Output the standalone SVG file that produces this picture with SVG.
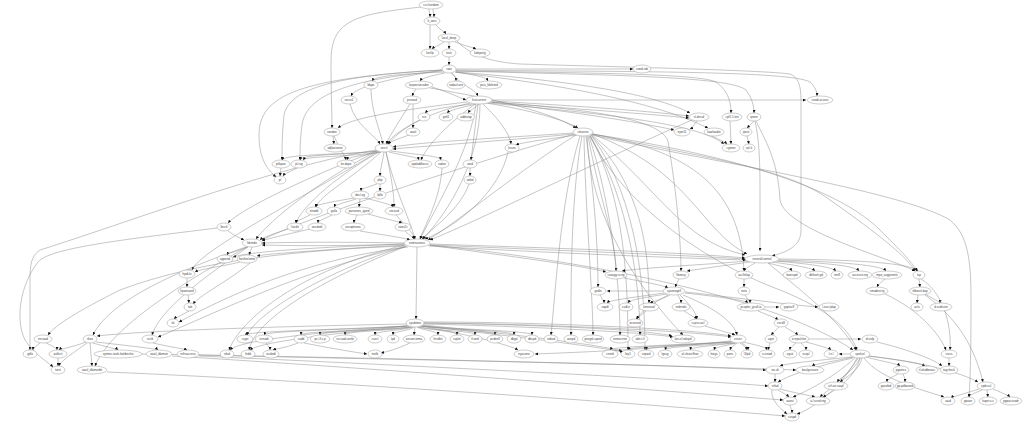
<svg xmlns="http://www.w3.org/2000/svg" width="1024" height="423" viewBox="0 0 1024 423">
<defs>
<marker id="a" viewBox="0 0 10 10" refX="10" refY="5" markerWidth="3" markerHeight="3" markerUnits="userSpaceOnUse" orient="auto"><path d="M0,0 L10,5 L0,10 z" fill="#111"/></marker>
</defs>
<style>
.n ellipse{fill:#fff;stroke:#9a9a9a;stroke-width:0.5}
.n text{font-family:"Liberation Sans",Arial,sans-serif;font-size:3px;fill:#444;text-anchor:middle;dominant-baseline:central}
#edges path{fill:none;stroke:#8c8c8c;stroke-width:0.5;marker-end:url(#a)}
</style>
<rect width="1024" height="423" fill="#fff"/>
<g id="edges">
<path d="M429,9 C429,13 430,13 430,17"/>
<path d="M433,9 C433,13 434,13 434,17"/>
<path d="M421,7 C360,14 331,18 331,60 C331,100 332,110 332,128"/>
<path d="M430,25 C430,38 430,40 430,49"/>
<path d="M436,25 C440,30 444,31 446,34"/>
<path d="M444,42 C438,46 434,47 432,49"/>
<path d="M449,42 L449,49"/>
<path d="M455,42 C465,46 472,47 476,49"/>
<path d="M457,41 C470,55 490,62 520,64 C620,67 760,70 790,74 C798,77 801,85 801,100 L801,230 C801,245 790,251 772,256"/>
<path d="M449,57 L449,65"/>
<path d="M444,72 C400,74 375,76 372,81"/>
<path d="M445,73 C430,76 422,78 420,81"/>
<path d="M451,73 C455,76 456,78 456,81"/>
<path d="M455,72 C475,75 486,77 488,81"/>
<path d="M452,73 C460,85 474,88 478,96"/>
<path d="M456,69 L633,69"/>
<path d="M456,70 C600,72 790,70 810,82 C815,87 817,91 817,96"/>
<path d="M456,71 C600,73 700,74 716,82 C727,90 731,100 731,113"/>
<path d="M456,71 C600,75 730,76 746,90 C752,98 754,106 754,113"/>
<path d="M456,72 C560,80 650,92 690,113"/>
<path d="M443,70 C380,80 355,88 351,96"/>
<path d="M442,70 C350,75 290,85 284,115 C282,135 282,150 282,160"/>
<path d="M442,71 C360,78 306,92 302,125 C300,140 300,150 300,160"/>
<path d="M442,70 C300,78 259,95 259,135 C259,160 268,170 276,177"/>
<path d="M455,72 C560,85 650,100 708,128"/>
<path d="M371,89 C371,110 380,130 383,144"/>
<path d="M416,89 C414,92 413,94 412,96"/>
<path d="M432,87 C448,92 458,97 466,100"/>
<path d="M430,88 C500,100 550,112 576,128"/>
<path d="M410,104 C400,120 390,135 386,144"/>
<path d="M413,104 L413,128"/>
<path d="M350,104 C355,125 375,135 380,144"/>
<path d="M472,104 C440,108 428,110 425,113"/>
<path d="M476,104 C460,108 450,110 447,113"/>
<path d="M479,104 C475,108 470,110 468,113"/>
<path d="M486,103 C530,110 565,120 578,128"/>
<path d="M470,103 C420,115 400,130 388,144"/>
<path d="M467,102 C400,110 350,118 338,128"/>
<path d="M490,102 C560,110 640,122 674,130"/>
<path d="M492,101 C560,105 640,110 689,116"/>
<path d="M492,102 C560,108 640,113 689,118"/>
<path d="M492,100 L806,100"/>
<path d="M476,104 C470,150 440,200 420,239"/>
<path d="M480,104 C480,160 450,210 423,239"/>
<path d="M478,104 L471,160"/>
<path d="M475,104 C440,130 425,150 421,160"/>
<path d="M483,104 C500,120 510,135 511,144"/>
<path d="M488,103 C620,115 700,125 724,144"/>
<path d="M490,102 C600,110 660,120 668,141 C678,200 681,250 681,271"/>
<path d="M754,121 C750,125 748,127 747,128"/>
<path d="M730,121 L731,144"/>
<path d="M697,121 C694,125 692,128 690,129"/>
<path d="M747,136 L749,144"/>
<path d="M712,136 C720,140 725,142 727,144"/>
<path d="M755,121 C758,135 760,150 760,190 L760,251"/>
<path d="M573,133 C500,138 420,142 393,147"/>
<path d="M574,134 C500,141 425,146 393,149"/>
<path d="M577,135 C540,140 520,143 516,145"/>
<path d="M575,134 C480,160 300,220 262,240"/>
<path d="M576,135 C520,170 460,220 428,240"/>
<path d="M580,136 C560,200 555,300 551,335"/>
<path d="M582,136 C570,200 571,300 571,335"/>
<path d="M584,136 C585,200 593,300 593,335"/>
<path d="M586,136 C595,200 598,250 598,287"/>
<path d="M588,136 C600,200 616,240 616,271"/>
<path d="M589,136 C610,200 620,280 620,335"/>
<path d="M590,136 C630,200 640,290 640,335"/>
<path d="M590,135 C625,200 628,280 628,350"/>
<path d="M591,135 C640,200 645,300 645,350"/>
<path d="M591,135 C645,190 649,260 649,303"/>
<path d="M592,135 C660,190 680,240 745,255"/>
<path d="M592,134 C690,170 700,230 747,254"/>
<path d="M593,134 C680,150 740,180 744,271"/>
<path d="M591,134 C700,150 830,180 880,230 C900,250 912,262 917,271"/>
<path d="M592,134 C720,160 790,170 830,200 C880,235 908,258 915,271"/>
<path d="M592,135 C700,160 900,190 950,220 C968,235 971,260 971,300 C971,360 970,385 969,397"/>
<path d="M590,136 C620,200 700,260 780,290 C830,310 850,330 857,350"/>
<path d="M587,136 C590,220 640,290 683,335"/>
<path d="M756,121 C765,140 778,160 780,200 C785,230 890,258 915,271"/>
<path d="M378,151 C340,155 285,154 282,160"/>
<path d="M379,151 C345,155 302,154 300,160"/>
<path d="M380,152 C350,157 306,156 303,160"/>
<path d="M381,152 C360,156 348,157 347,160"/>
<path d="M389,152 C405,156 418,157 419,160"/>
<path d="M391,151 C420,155 440,156 441,160"/>
<path d="M384,152 C382,165 380,170 380,176"/>
<path d="M386,152 C395,190 410,220 415,239"/>
<path d="M381,152 C350,180 320,195 316,207"/>
<path d="M386,152 C392,180 394,195 394,207"/>
<path d="M379,152 C330,180 300,210 296,223"/>
<path d="M377,151 C320,180 270,220 256,239"/>
<path d="M376,151 C300,180 240,210 228,223"/>
<path d="M376,150 C280,165 120,225 40,250 C31,256 30,265 30,280 L30,350"/>
<path d="M377,152 C300,200 200,250 192,270"/>
<path d="M333,136 L334,144"/>
<path d="M334,136 C340,150 345,155 346,160"/>
<path d="M409,135 C395,140 390,142 388,144"/>
<path d="M420,120 C400,130 390,138 387,144"/>
<path d="M281,168 L280,176"/>
<path d="M297,168 C290,172 285,173 283,176"/>
<path d="M377,184 C365,188 361,189 361,191"/>
<path d="M380,184 L380,191"/>
<path d="M442,168 C440,200 425,225 420,239"/>
<path d="M470,168 L470,176"/>
<path d="M469,184 C460,210 430,230 422,239"/>
<path d="M354,198 C325,203 316,205 315,207"/>
<path d="M356,199 C340,204 335,205 334,207"/>
<path d="M360,199 L359,207"/>
<path d="M365,198 C385,203 392,205 393,207"/>
<path d="M396,215 C405,225 413,233 415,239"/>
<path d="M368,214 C390,220 400,222 402,223"/>
<path d="M310,215 C300,220 296,221 296,223"/>
<path d="M332,215 C322,220 318,221 318,223"/>
<path d="M357,215 C355,220 354,221 354,223"/>
<path d="M360,231 C390,236 405,238 410,240"/>
<path d="M405,231 C410,236 413,237 414,239"/>
<path d="M288,229 C270,235 262,238 260,240"/>
<path d="M310,229 C280,236 266,239 262,241"/>
<path d="M404,243 C350,242 300,242 262,243"/>
<path d="M404,244 C350,246 300,246 262,245"/>
<path d="M228,231 C235,236 240,238 244,240"/>
<path d="M248,247 C235,252 228,253 227,255"/>
<path d="M252,247 L249,255"/>
<path d="M405,245 C320,250 265,254 257,256"/>
<path d="M404,244 C300,248 250,252 233,257"/>
<path d="M240,262 C220,267 200,269 195,272"/>
<path d="M187,278 L187,287"/>
<path d="M188,295 L189,303"/>
<path d="M250,263 C230,280 200,295 193,304"/>
<path d="M189,311 C180,316 175,318 174,319"/>
<path d="M408,247 C300,260 220,300 179,322"/>
<path d="M405,247 C300,270 200,320 158,337"/>
<path d="M404,246 C300,250 200,260 120,290 C80,310 55,325 48,335"/>
<path d="M217,228 C120,240 50,248 38,262 C20,285 15,320 25,340 C35,355 48,362 53,367"/>
<path d="M246,247 C180,270 110,300 93,335"/>
<path d="M248,247 C200,280 160,310 152,335"/>
<path d="M247,247 C170,290 110,330 95,366"/>
<path d="M508,152 C500,190 460,225 425,239"/>
<path d="M692,120 C600,160 480,220 430,240"/>
<path d="M430,244 C550,248 680,252 745,258"/>
<path d="M430,245 C550,250 680,255 745,259"/>
<path d="M429,246 C550,253 680,258 746,260"/>
<path d="M428,245 C500,255 580,265 606,272"/>
<path d="M430,245 C600,262 780,300 853,350"/>
<path d="M417,247 L416,319"/>
<path d="M405,245 C300,270 240,320 229,350"/>
<path d="M407,246 C320,280 255,320 249,350"/>
<path d="M406,246 C330,270 260,310 247,335"/>
<path d="M86,342 C70,348 60,349 59,350"/>
<path d="M93,343 C110,348 117,349 118,350"/>
<path d="M96,342 C140,347 157,349 158,350"/>
<path d="M90,343 L92,366"/>
<path d="M87,343 C70,355 60,362 59,366"/>
<path d="M40,343 C35,347 33,349 33,350"/>
<path d="M46,343 C55,347 57,349 57,350"/>
<path d="M58,358 L58,366"/>
<path d="M153,343 C175,348 185,349 187,350"/>
<path d="M406,324 C300,326 150,330 97,336"/>
<path d="M199,355 C400,360 600,362 766,370"/>
<path d="M107,372 C300,380 600,400 785,416"/>
<path d="M172,356 C400,370 650,390 783,400"/>
<path d="M199,356 C400,365 700,380 768,386"/>
<path d="M142,354 C400,358 650,365 796,370"/>
<path d="M408,326 C330,330 250,331 245,335"/>
<path d="M409,326 C340,330 266,331 264,335"/>
<path d="M410,327 C370,331 301,331 301,335"/>
<path d="M411,327 C380,331 320,331 320,335"/>
<path d="M412,327 C390,331 345,331 345,335"/>
<path d="M413,327 C400,331 375,331 375,335"/>
<path d="M414,327 C410,331 393,331 393,335"/>
<path d="M415,327 L414,335"/>
<path d="M417,327 C425,331 438,331 438,335"/>
<path d="M418,327 C435,331 457,331 457,335"/>
<path d="M419,327 C440,331 475,331 475,335"/>
<path d="M420,326 C450,330 495,331 495,335"/>
<path d="M421,326 C460,330 514,331 514,335"/>
<path d="M422,326 C470,330 532,331 532,335"/>
<path d="M407,326 C320,332 240,340 230,350"/>
<path d="M407,326 C330,334 260,342 250,350"/>
<path d="M424,323 C550,325 650,330 672,336"/>
<path d="M424,324 C550,327 650,333 673,337"/>
<path d="M424,322 C560,322 700,330 731,336"/>
<path d="M424,323 C560,324 700,332 731,337"/>
<path d="M423,325 C520,335 600,345 622,351"/>
<path d="M423,326 C520,337 600,347 623,352"/>
<path d="M421,326 C470,335 510,345 518,350"/>
<path d="M298,343 C285,348 275,349 273,350"/>
<path d="M266,343 C269,347 270,349 270,350"/>
<path d="M304,343 C340,350 360,353 367,354"/>
<path d="M410,343 C395,350 385,352 381,353"/>
<path d="M731,342 C650,346 612,347 610,350"/>
<path d="M732,342 C660,346 630,347 628,350"/>
<path d="M733,342 C670,346 647,347 646,350"/>
<path d="M734,343 C690,346 666,347 665,350"/>
<path d="M735,343 C710,346 691,347 690,350"/>
<path d="M736,343 C725,346 715,347 714,350"/>
<path d="M737,343 C733,346 731,347 730,350"/>
<path d="M740,343 C744,346 746,347 747,350"/>
<path d="M742,343 C746,346 748,347 748,350"/>
<path d="M743,342 C760,346 766,347 767,350"/>
<path d="M730,341 C650,350 560,353 535,354"/>
<path d="M663,291 L607,291"/>
<path d="M664,293 C630,298 610,300 607,303"/>
<path d="M667,294 C640,298 630,300 628,303"/>
<path d="M670,295 C660,300 652,302 650,303"/>
<path d="M678,295 C680,299 681,301 681,303"/>
<path d="M685,293 C720,297 745,300 748,303"/>
<path d="M680,295 C690,305 696,312 697,319"/>
<path d="M668,295 C650,305 640,312 637,319"/>
<path d="M683,295 C720,310 735,325 737,335"/>
<path d="M685,292 C740,298 790,305 818,307"/>
<path d="M600,295 C603,300 604,302 604,303"/>
<path d="M646,311 C640,316 637,318 636,319"/>
<path d="M684,311 C692,316 696,318 697,319"/>
<path d="M705,326 C725,332 733,334 735,335"/>
<path d="M679,279 C677,283 676,285 675,287"/>
<path d="M624,278 C650,283 665,286 668,288"/>
<path d="M744,279 L744,287"/>
<path d="M745,295 C748,300 750,302 750,303"/>
<path d="M765,307 L779,307"/>
<path d="M758,311 C770,316 776,318 778,320"/>
<path d="M785,327 C793,332 797,334 798,335"/>
<path d="M779,327 C774,332 772,334 771,335"/>
<path d="M801,343 C805,347 806,349 806,350"/>
<path d="M796,343 C791,347 790,349 790,350"/>
<path d="M770,343 L768,350"/>
<path d="M806,342 C825,347 830,349 831,350"/>
<path d="M809,339 C840,339 855,339 861,339"/>
<path d="M877,342 C910,350 935,360 942,366"/>
<path d="M748,261 C700,265 640,268 622,271"/>
<path d="M750,262 C720,266 700,269 687,271"/>
<path d="M755,263 C748,267 745,269 744,271"/>
<path d="M768,263 C780,266 790,268 792,271"/>
<path d="M772,262 C795,265 812,268 815,271"/>
<path d="M776,261 C810,264 832,267 836,271"/>
<path d="M778,261 C830,263 855,266 859,271"/>
<path d="M779,260 C850,262 882,266 886,271"/>
<path d="M779,259 C880,260 912,265 918,271"/>
<path d="M768,263 C800,290 840,320 856,350"/>
<path d="M885,279 C880,283 878,285 877,287"/>
<path d="M919,279 L920,287"/>
<path d="M918,295 L917,303"/>
<path d="M925,294 C935,300 940,302 940,303"/>
<path d="M921,279 C940,290 952,320 950,350"/>
<path d="M885,294 C920,310 940,335 946,350"/>
<path d="M949,358 L949,366"/>
<path d="M925,295 C960,320 975,350 983,382"/>
<path d="M852,357 C800,362 785,364 780,366"/>
<path d="M853,358 C800,370 785,378 778,382"/>
<path d="M857,358 C840,390 810,410 797,414"/>
<path d="M855,358 C830,380 805,392 793,397"/>
<path d="M858,358 C845,380 825,392 820,397"/>
<path d="M860,358 C855,380 830,393 823,397"/>
<path d="M860,358 C855,370 840,378 837,382"/>
<path d="M862,358 C860,370 845,378 840,382"/>
<path d="M866,357 C885,362 898,364 900,366"/>
<path d="M868,356 C900,360 920,363 925,366"/>
<path d="M864,358 C880,380 930,392 944,397"/>
<path d="M854,357 C830,362 815,364 812,366"/>
<path d="M869,356 C920,362 960,372 978,382"/>
<path d="M850,354 L839,354"/>
<path d="M775,374 L775,382"/>
<path d="M778,390 C785,394 788,396 789,397"/>
<path d="M772,390 C770,400 782,410 787,414"/>
<path d="M790,405 C791,409 792,411 792,413"/>
<path d="M780,389 C800,394 812,396 815,397"/>
<path d="M898,374 C890,378 887,380 887,382"/>
<path d="M903,374 C905,378 905,380 905,382"/>
<path d="M979,389 C960,395 952,397 951,398"/>
<path d="M982,390 C972,394 969,396 969,397"/>
<path d="M987,390 L988,397"/>
<path d="M993,389 C1005,394 1009,396 1010,397"/>
</g>
<g id="nodes">
<g id="n_ccc" class="n"><ellipse cx="431" cy="5" rx="12" ry="4"/><text x="431" y="5">ccc/random</text></g>
<g id="n_lta" class="n"><ellipse cx="432" cy="21" rx="8" ry="4"/><text x="432" y="21">lt_ares</text></g>
<g id="n_ldp" class="n"><ellipse cx="449" cy="38" rx="11" ry="4"/><text x="449" y="38">local_deep</text></g>
<g id="n_kerl" class="n"><ellipse cx="430" cy="53" rx="9" ry="4"/><text x="430" y="53">kerl/p</text></g>
<g id="n_lock" class="n"><ellipse cx="449" cy="53" rx="7" ry="4"/><text x="449" y="53">lock</text></g>
<g id="n_kdp" class="n"><ellipse cx="480" cy="53" rx="10" ry="4"/><text x="480" y="53">kdepoi/g</text></g>
<g id="n_root" class="n"><ellipse cx="449" cy="69" rx="7" ry="4"/><text x="449" y="69">root</text></g>
<g id="n_cdx" class="n"><ellipse cx="642" cy="69" rx="9" ry="4"/><text x="642" y="69">candi.rdx</text></g>
<g id="n_ldapc" class="n"><ellipse cx="371" cy="85" rx="7" ry="4"/><text x="371" y="85">ldapc</text></g>
<g id="n_lsp" class="n"><ellipse cx="419" cy="85" rx="14" ry="4"/><text x="419" y="85">laspectorcodec</text></g>
<g id="n_sod" class="n"><ellipse cx="456" cy="85" rx="9" ry="4"/><text x="456" y="85">sodar/core</text></g>
<g id="n_pciu" class="n"><ellipse cx="489" cy="85" rx="13" ry="4"/><text x="489" y="85">pciu_ldeleted</text></g>
<g id="n_cav" class="n"><ellipse cx="820" cy="100" rx="13" ry="4"/><text x="820" y="100">candi.ar.vars</text></g>
<g id="n_sec" class="n"><ellipse cx="349" cy="100" rx="8" ry="4"/><text x="349" y="100">secur1</text></g>
<g id="n_pcn" class="n"><ellipse cx="412" cy="100" rx="9" ry="4"/><text x="412" y="100">pcnoud</text></g>
<g id="n_fco" class="n"><ellipse cx="479" cy="100" rx="13" ry="4"/><text x="479" y="100">fcoicurrent</text></g>
<g id="n_rcn" class="n"><ellipse cx="424" cy="117" rx="6" ry="4"/><text x="424" y="117">rcn</text></g>
<g id="n_getl" class="n"><ellipse cx="446" cy="117" rx="7" ry="4"/><text x="446" y="117">getl1</text></g>
<g id="n_add" class="n"><ellipse cx="466" cy="117" rx="9" ry="4"/><text x="466" y="117">addexop</text></g>
<g id="n_sld" class="n"><ellipse cx="699" cy="117" rx="10" ry="4"/><text x="699" y="117">sl.decaf</text></g>
<g id="n_cpf" class="n"><ellipse cx="732" cy="117" rx="10" ry="4"/><text x="732" y="117">cpf1.1.ten</text></g>
<g id="n_ipn" class="n"><ellipse cx="754" cy="117" rx="7" ry="4"/><text x="754" y="117">ipnen</text></g>
<g id="n_rnd" class="n"><ellipse cx="332" cy="132" rx="8" ry="4"/><text x="332" y="132">randon</text></g>
<g id="n_avl" class="n"><ellipse cx="413" cy="132" rx="7" ry="4"/><text x="413" y="132">avail</text></g>
<g id="n_clr" class="n"><ellipse cx="583" cy="132" rx="10" ry="4"/><text x="583" y="132">clearcnv</text></g>
<g id="n_eye" class="n"><ellipse cx="682" cy="132" rx="8" ry="4"/><text x="682" y="132">eyer11</text></g>
<g id="n_kaw" class="n"><ellipse cx="714" cy="132" rx="10" ry="4"/><text x="714" y="132">kawloader</text></g>
<g id="n_ipt" class="n"><ellipse cx="746" cy="132" rx="6" ry="4"/><text x="746" y="132">ipnut</text></g>
<g id="n_adj" class="n"><ellipse cx="335" cy="148" rx="11" ry="4"/><text x="335" y="148">adjlaesiene</text></g>
<g id="n_ven" class="n"><ellipse cx="384" cy="148" rx="9" ry="4"/><text x="384" y="148">ven.il</text></g>
<g id="n_kse" class="n"><ellipse cx="512" cy="148" rx="7" ry="4"/><text x="512" y="148">ksses</text></g>
<g id="n_cgm" class="n"><ellipse cx="731" cy="148" rx="9" ry="4"/><text x="731" y="148">cgmen</text></g>
<g id="n_cpk" class="n"><ellipse cx="749" cy="148" rx="6" ry="4"/><text x="749" y="148">cpl-k</text></g>
<g id="n_pil" class="n"><ellipse cx="281" cy="164" rx="9" ry="4"/><text x="281" y="164">pillapoc</text></g>
<g id="n_plr" class="n"><ellipse cx="299" cy="164" rx="8" ry="4"/><text x="299" y="164">pl.rug</text></g>
<g id="n_knd" class="n"><ellipse cx="346" cy="164" rx="9" ry="4"/><text x="346" y="164">kn.dape</text></g>
<g id="n_apd" class="n"><ellipse cx="420" cy="164" rx="12" ry="4"/><text x="420" y="164">apdaddlocus</text></g>
<g id="n_rad" class="n"><ellipse cx="442" cy="164" rx="7" ry="4"/><text x="442" y="164">radon</text></g>
<g id="n_ani" class="n"><ellipse cx="470" cy="164" rx="7" ry="4"/><text x="470" y="164">anid</text></g>
<g id="n_pl" class="n"><ellipse cx="280" cy="180" rx="6" ry="4"/><text x="280" y="180">pl</text></g>
<g id="n_php" class="n"><ellipse cx="380" cy="180" rx="6" ry="4"/><text x="380" y="180">php</text></g>
<g id="n_anb" class="n"><ellipse cx="470" cy="180" rx="6" ry="4"/><text x="470" y="180">anbd</text></g>
<g id="n_doc" class="n"><ellipse cx="360" cy="195" rx="9" ry="4"/><text x="360" y="195">docl.og</text></g>
<g id="n_lpf" class="n"><ellipse cx="380" cy="195" rx="6" ry="4"/><text x="380" y="195">lpfla</text></g>
<g id="n_nno" class="n"><ellipse cx="314" cy="211" rx="8" ry="4"/><text x="314" y="211">nnodd</text></g>
<g id="n_gal" class="n"><ellipse cx="334" cy="211" rx="7" ry="4"/><text x="334" y="211">galla</text></g>
<g id="n_prs" class="n"><ellipse cx="359" cy="211" rx="14" ry="4"/><text x="359" y="211">parsenos_igord</text></g>
<g id="n_snc" class="n"><ellipse cx="394" cy="211" rx="9" ry="4"/><text x="394" y="211">sncoud</text></g>
<g id="n_lbs" class="n"><ellipse cx="224" cy="227" rx="7" ry="4"/><text x="224" y="227">lbsctl</text></g>
<g id="n_lsi" class="n"><ellipse cx="295" cy="227" rx="8" ry="4"/><text x="295" y="227">lsicdit</text></g>
<g id="n_anc" class="n"><ellipse cx="317" cy="227" rx="9" ry="4"/><text x="317" y="227">ancdedt</text></g>
<g id="n_osc" class="n"><ellipse cx="353" cy="227" rx="12" ry="4"/><text x="353" y="227">oscoptrionu</text></g>
<g id="n_rwe" class="n"><ellipse cx="403" cy="227" rx="8" ry="4"/><text x="403" y="227">rwes2c</text></g>
<g id="n_fdc" class="n"><ellipse cx="252" cy="243" rx="10" ry="4"/><text x="252" y="243">fdcmdo</text></g>
<g id="n_ext" class="n"><ellipse cx="417" cy="243" rx="13" ry="4"/><text x="417" y="243">extensionus</text></g>
<g id="n_app" class="n"><ellipse cx="225" cy="259" rx="8" ry="4"/><text x="225" y="259">append</text></g>
<g id="n_hos" class="n"><ellipse cx="247" cy="259" rx="10" ry="4"/><text x="247" y="259">hosfteclome</text></g>
<g id="n_neu" class="n"><ellipse cx="762" cy="259" rx="17" ry="4"/><text x="762" y="259">neutrxl/control</text></g>
<g id="n_hpd" class="n"><ellipse cx="187" cy="274" rx="8" ry="4"/><text x="187" y="274">hpdclo</text></g>
<g id="n_coa" class="n"><ellipse cx="616" cy="275" rx="11" ry="4"/><text x="616" y="275">coasgy.ru.ng</text></g>
<g id="n_lfo" class="n"><ellipse cx="681" cy="275" rx="8" ry="4"/><text x="681" y="275">lfonesy</text></g>
<g id="n_acc" class="n"><ellipse cx="744" cy="275" rx="9" ry="4"/><text x="744" y="275">accllelap</text></g>
<g id="n_ban" class="n"><ellipse cx="792" cy="275" rx="9" ry="4"/><text x="792" y="275">banrupd</text></g>
<g id="n_dle" class="n"><ellipse cx="816" cy="275" rx="11" ry="4"/><text x="816" y="275">dlelsetr.gd</text></g>
<g id="n_ter" class="n"><ellipse cx="837" cy="275" rx="6" ry="4"/><text x="837" y="275">teri8</text></g>
<g id="n_axs" class="n"><ellipse cx="860" cy="275" rx="12" ry="4"/><text x="860" y="275">accessit.ing</text></g>
<g id="n_mpo" class="n"><ellipse cx="887" cy="275" rx="15" ry="4"/><text x="887" y="275">mpo_augprionts</text></g>
<g id="n_tsp" class="n"><ellipse cx="919" cy="275" rx="6" ry="4"/><text x="919" y="275">tsp</text></g>
<g id="n_hpa" class="n"><ellipse cx="187" cy="291" rx="9" ry="4"/><text x="187" y="291">hpannaed</text></g>
<g id="n_gsd" class="n"><ellipse cx="598" cy="291" rx="8" ry="4"/><text x="598" y="291">gsdln</text></g>
<g id="n_sys2" class="n"><ellipse cx="674" cy="291" rx="11" ry="4"/><text x="674" y="291">sysenogell</text></g>
<g id="n_nst" class="n"><ellipse cx="744" cy="291" rx="6" ry="4"/><text x="744" y="291">nsto</text></g>
<g id="n_cmd" class="n"><ellipse cx="877" cy="291" rx="11" ry="4"/><text x="877" y="291">cmadevr.tg</text></g>
<g id="n_elb" class="n"><ellipse cx="920" cy="291" rx="11" ry="4"/><text x="920" y="291">elbassl.dap</text></g>
<g id="n_tab" class="n"><ellipse cx="190" cy="307" rx="6" ry="4"/><text x="190" y="307">tab</text></g>
<g id="n_zap" class="n"><ellipse cx="605" cy="307" rx="8" ry="4"/><text x="605" y="307">zapdl</text></g>
<g id="n_cud" class="n"><ellipse cx="626" cy="307" rx="7" ry="4"/><text x="626" y="307">cudl.e</text></g>
<g id="n_ken" class="n"><ellipse cx="649" cy="307" rx="10" ry="4"/><text x="649" y="307">kenniuwl</text></g>
<g id="n_nrd" class="n"><ellipse cx="681" cy="307" rx="9" ry="4"/><text x="681" y="307">nrdrrrdu</text></g>
<g id="n_pca" class="n"><ellipse cx="751" cy="307" rx="14" ry="4"/><text x="751" y="307">pcapler_gcoll.ia</text></g>
<g id="n_gap" class="n"><ellipse cx="789" cy="307" rx="9" ry="4"/><text x="789" y="307">gaptsc8</text></g>
<g id="n_los" class="n"><ellipse cx="829" cy="307" rx="10" ry="4"/><text x="829" y="307">l.oscr.jdap</text></g>
<g id="n_acl" class="n"><ellipse cx="917" cy="307" rx="6" ry="4"/><text x="917" y="307">acls</text></g>
<g id="n_dss" class="n"><ellipse cx="941" cy="307" rx="11" ry="4"/><text x="941" y="307">d.ssdrsstn</text></g>
<g id="n_ilo" class="n"><ellipse cx="173" cy="323" rx="6" ry="4"/><text x="173" y="323">ilo</text></g>
<g id="n_sysd" class="n"><ellipse cx="415" cy="323" rx="9" ry="4"/><text x="415" y="323">sysdemo</text></g>
<g id="n_ecs" class="n"><ellipse cx="635" cy="323" rx="8" ry="4"/><text x="635" y="323">ecsesed</text></g>
<g id="n_ccp" class="n"><ellipse cx="698" cy="323" rx="10" ry="4"/><text x="698" y="323">ccpsccacl</text></g>
<g id="n_cnc" class="n"><ellipse cx="781" cy="323" rx="7" ry="4"/><text x="781" y="323">cncd3</text></g>
<g id="n_nrc" class="n"><ellipse cx="43" cy="339" rx="9" ry="4"/><text x="43" y="339">nncaad</text></g>
<g id="n_rko" class="n"><ellipse cx="90" cy="339" rx="7" ry="4"/><text x="90" y="339">rkoo</text></g>
<g id="n_rald" class="n"><ellipse cx="150" cy="339" rx="8" ry="4"/><text x="150" y="339">ra:ld</text></g>
<g id="n_cry" class="n"><ellipse cx="245" cy="339" rx="8" ry="4"/><text x="245" y="339">crypt</text></g>
<g id="n_tsr" class="n"><ellipse cx="264" cy="339" rx="9" ry="4"/><text x="264" y="339">tsrnadt</text></g>
<g id="n_cad" class="n"><ellipse cx="301" cy="339" rx="7" ry="4"/><text x="301" y="339">cadd</text></g>
<g id="n_pcl" class="n"><ellipse cx="320" cy="339" rx="10" ry="4"/><text x="320" y="339">pc.l.f.s.p</text></g>
<g id="n_scc" class="n"><ellipse cx="345" cy="339" rx="12" ry="4"/><text x="345" y="339">sccuad.senlo</text></g>
<g id="n_cse" class="n"><ellipse cx="375" cy="339" rx="7" ry="4"/><text x="375" y="339">csecl</text></g>
<g id="n_lpd" class="n"><ellipse cx="393" cy="339" rx="6" ry="4"/><text x="393" y="339">lpd</text></g>
<g id="n_aes" class="n"><ellipse cx="414" cy="339" rx="11" ry="4"/><text x="414" y="339">aesuni.toma</text></g>
<g id="n_hrs" class="n"><ellipse cx="438" cy="339" rx="8" ry="4"/><text x="438" y="339">hrsdlet</text></g>
<g id="n_rsp" class="n"><ellipse cx="457" cy="339" rx="7" ry="4"/><text x="457" y="339">rsplet</text></g>
<g id="n_tlo" class="n"><ellipse cx="475" cy="339" rx="7" ry="4"/><text x="475" y="339">tl.ond</text></g>
<g id="n_pcd" class="n"><ellipse cx="495" cy="339" rx="8" ry="4"/><text x="495" y="339">pcdeell</text></g>
<g id="n_dbg" class="n"><ellipse cx="514" cy="339" rx="7" ry="4"/><text x="514" y="339">dbgd</text></g>
<g id="n_dbc" class="n"><ellipse cx="532" cy="339" rx="7" ry="4"/><text x="532" y="339">dbcpd</text></g>
<g id="n_seb" class="n"><ellipse cx="551" cy="339" rx="7" ry="4"/><text x="551" y="339">sebad</text></g>
<g id="n_asn" class="n"><ellipse cx="571" cy="339" rx="7" ry="4"/><text x="571" y="339">asnpd</text></g>
<g id="n_psn" class="n"><ellipse cx="593" cy="339" rx="11" ry="4"/><text x="593" y="339">psngd.cuped</text></g>
<g id="n_snm" class="n"><ellipse cx="620" cy="339" rx="10" ry="4"/><text x="620" y="339">snmxcrrne</text></g>
<g id="n_abn" class="n"><ellipse cx="640" cy="339" rx="8" ry="4"/><text x="640" y="339">abn.r.lt</text></g>
<g id="n_lan" class="n"><ellipse cx="683" cy="339" rx="12" ry="4"/><text x="683" y="339">lan.icl.ndspd</text></g>
<g id="n_cns" class="n"><ellipse cx="738" cy="339" rx="8" ry="4"/><text x="738" y="339">cnstcr</text></g>
<g id="n_agt" class="n"><ellipse cx="771" cy="339" rx="6" ry="4"/><text x="771" y="339">aget</text></g>
<g id="n_ecn" class="n"><ellipse cx="799" cy="339" rx="10" ry="4"/><text x="799" y="339">ecnpulchie</text></g>
<g id="n_dcv" class="n"><ellipse cx="870" cy="339" rx="8" ry="4"/><text x="870" y="339">dcvvlp</text></g>
<g id="n_gdl" class="n"><ellipse cx="30" cy="354" rx="7" ry="4"/><text x="30" y="354">gdlo</text></g>
<g id="n_pol" class="n"><ellipse cx="58" cy="354" rx="9" ry="4"/><text x="58" y="354">polkcit</text></g>
<g id="n_sym" class="n"><ellipse cx="118" cy="354" rx="24" ry="4"/><text x="118" y="354">symtec.tools.boldresho</text></g>
<g id="n_avd" class="n"><ellipse cx="159" cy="354" rx="13" ry="4"/><text x="159" y="354">avail_dlamon</text></g>
<g id="n_nrf" class="n"><ellipse cx="188" cy="354" rx="11" ry="4"/><text x="188" y="354">nrfrsaccess</text></g>
<g id="n_rds" class="n"><ellipse cx="227" cy="354" rx="7" ry="4"/><text x="227" y="354">rdsd</text></g>
<g id="n_led" class="n"><ellipse cx="248" cy="354" rx="7" ry="4"/><text x="248" y="354">ledd</text></g>
<g id="n_eci" class="n"><ellipse cx="271" cy="354" rx="8" ry="4"/><text x="271" y="354">ecidedt</text></g>
<g id="n_mxl" class="n"><ellipse cx="375" cy="354" rx="7" ry="4"/><text x="375" y="354">mxlb</text></g>
<g id="n_nya" class="n"><ellipse cx="524" cy="354" rx="10" ry="4"/><text x="524" y="354">nyacnne</text></g>
<g id="n_cne" class="n"><ellipse cx="610" cy="354" rx="8" ry="4"/><text x="610" y="354">cnetd</text></g>
<g id="n_ltr" class="n"><ellipse cx="628" cy="354" rx="7" ry="4"/><text x="628" y="354">ltrp1</text></g>
<g id="n_cnp" class="n"><ellipse cx="646" cy="354" rx="8" ry="4"/><text x="646" y="354">cnpwd</text></g>
<g id="n_lgv" class="n"><ellipse cx="665" cy="354" rx="7" ry="4"/><text x="665" y="354">lgvsg</text></g>
<g id="n_alc" class="n"><ellipse cx="690" cy="354" rx="13" ry="4"/><text x="690" y="354">al.clearcfhan</text></g>
<g id="n_hie" class="n"><ellipse cx="714" cy="354" rx="6" ry="4"/><text x="714" y="354">hiegs</text></g>
<g id="n_pon" class="n"><ellipse cx="730" cy="354" rx="6" ry="4"/><text x="730" y="354">pons</text></g>
<g id="n_l1l" class="n"><ellipse cx="747" cy="354" rx="6" ry="4"/><text x="747" y="354">l1lpd</text></g>
<g id="n_ccs" class="n"><ellipse cx="767" cy="354" rx="8" ry="4"/><text x="767" y="354">ccsnwd</text></g>
<g id="n_egs" class="n"><ellipse cx="790" cy="354" rx="7" ry="4"/><text x="790" y="354">egsti</text></g>
<g id="n_ecq" class="n"><ellipse cx="806" cy="354" rx="7" ry="4"/><text x="806" y="354">ecqsl</text></g>
<g id="n_lnl" class="n"><ellipse cx="831" cy="354" rx="7" ry="4"/><text x="831" y="354">l.n.l</text></g>
<g id="n_spe" class="n"><ellipse cx="860" cy="354" rx="10" ry="4"/><text x="860" y="354">spelcol</text></g>
<g id="n_siv" class="n"><ellipse cx="949" cy="354" rx="8" ry="4"/><text x="949" y="354">sivus</text></g>
<g id="n_tar" class="n"><ellipse cx="58" cy="370" rx="7" ry="4"/><text x="58" y="370">tarst</text></g>
<g id="n_avb" class="n"><ellipse cx="92" cy="370" rx="15" ry="4"/><text x="92" y="370">avail_dlamonbt</text></g>
<g id="n_toc" class="n"><ellipse cx="775" cy="370" rx="9" ry="4"/><text x="775" y="370">toc.di</text></g>
<g id="n_bas" class="n"><ellipse cx="810" cy="370" rx="14" ry="4"/><text x="810" y="370">baslgsrosee</text></g>
<g id="n_pga" class="n"><ellipse cx="901" cy="370" rx="8" ry="4"/><text x="901" y="370">pgamcs</text></g>
<g id="n_rlo" class="n"><ellipse cx="927" cy="370" rx="11" ry="4"/><text x="927" y="370">rl.olsdbeaisc</text></g>
<g id="n_laq" class="n"><ellipse cx="949" cy="370" rx="9" ry="4"/><text x="949" y="370">tagcheck</text></g>
<g id="n_srf" class="n"><ellipse cx="775" cy="386" rx="7" ry="4"/><text x="775" y="386">srfad</text></g>
<g id="n_sfc" class="n"><ellipse cx="836" cy="386" rx="12" ry="4"/><text x="836" y="386">srf.an.caspl</text></g>
<g id="n_ppz" class="n"><ellipse cx="886" cy="386" rx="8" ry="4"/><text x="886" y="386">ppzzbid</text></g>
<g id="n_ppp" class="n"><ellipse cx="905" cy="386" rx="10" ry="4"/><text x="905" y="386">pp.pdbaswd</text></g>
<g id="n_cpd" class="n"><ellipse cx="986" cy="386" rx="9" ry="4"/><text x="986" y="386">cpdcsul</text></g>
<g id="n_aan" class="n"><ellipse cx="790" cy="401" rx="7" ry="4"/><text x="790" y="401">aanst</text></g>
<g id="n_alv" class="n"><ellipse cx="818" cy="401" rx="12" ry="4"/><text x="818" y="401">a.l.vcnd.rng</text></g>
<g id="n_aai" class="n"><ellipse cx="948" cy="401" rx="7" ry="4"/><text x="948" y="401">aaid</text></g>
<g id="n_ppx" class="n"><ellipse cx="968" cy="401" rx="7" ry="4"/><text x="968" y="401">ppaxn</text></g>
<g id="n_hap" class="n"><ellipse cx="988" cy="401" rx="9" ry="4"/><text x="988" y="401">haprcu.s</text></g>
<g id="n_pps" class="n"><ellipse cx="1011" cy="401" rx="11" ry="4"/><text x="1011" y="401">pppacssedr</text></g>
<g id="n_cos" class="n"><ellipse cx="792" cy="417" rx="7" ry="4"/><text x="792" y="417">cospd</text></g>
</g>
</svg>
